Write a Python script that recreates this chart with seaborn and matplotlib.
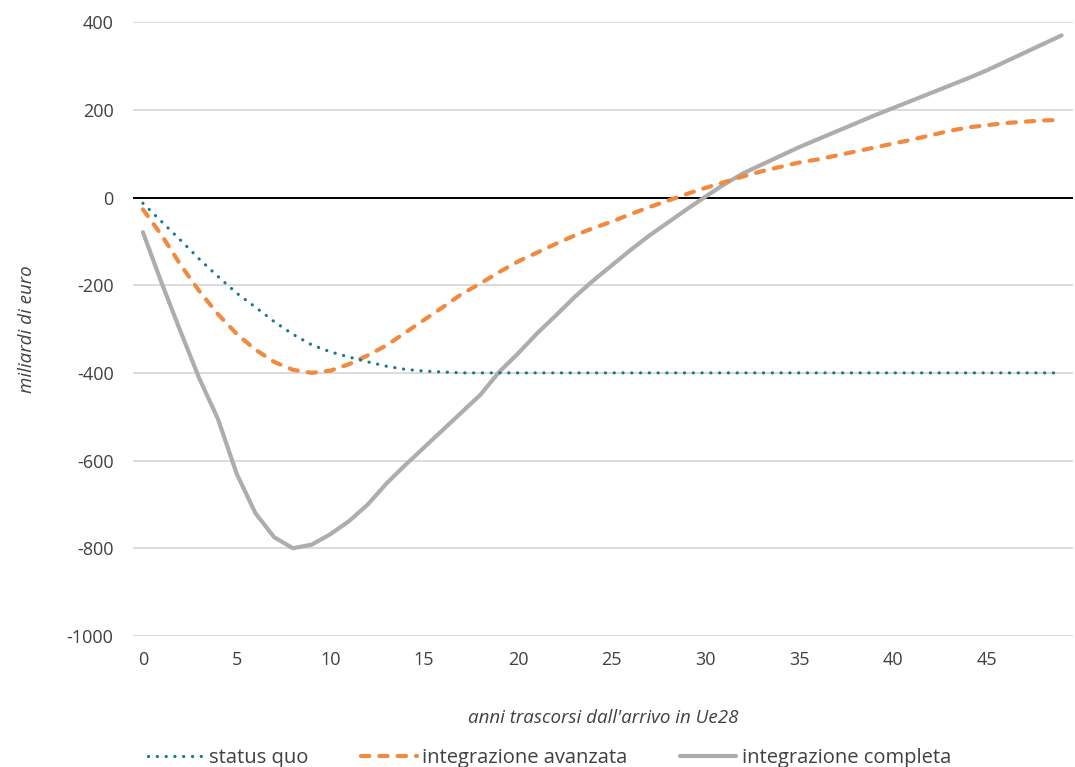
import numpy as np
import pandas as pd
import matplotlib
matplotlib.use("Agg")
import matplotlib.pyplot as plt
import seaborn as sns

years = list(range(0, 50))
status_quo = [-13, -55, -97, -140, -180, -218, -250, -283, -312, -336,
              -352, -364, -375, -385, -392, -396, -398, -400, -400, -400,
              -400, -400, -400, -400, -400, -400, -400, -400, -400, -400,
              -400, -400, -400, -400, -400, -400, -400, -400, -400, -400,
              -400, -400, -400, -400, -400, -400, -400, -400, -400, -400]
integrazione_avanzata = [-27, -86, -153, -213, -266, -311, -347, -375, -393, -400,
                         -395, -380, -360, -337, -308, -279, -250, -220, -196, -170,
                         -146, -126, -106, -87, -70, -55, -38, -22, -7, 8,
                         22, 35, 48, 60, 70, 80, 87, 96, 105, 114,
                         123, 132, 142, 152, 160, 165, 170, 173, 176, 177]
integrazione_completa = [-79, -195, -305, -412, -505, -630, -720, -775, -800, -792,
                         -768, -738, -700, -652, -610, -570, -530, -490, -450, -398,
                         -356, -311, -270, -228, -190, -155, -120, -87, -57, -27,
                         2, 30, 55, 75, 95, 115, 133, 151, 169, 187,
                         204, 221, 238, 255, 272, 290, 310, 330, 350, 370]
series_names = ["status quo", "integrazione avanzata", "integrazione completa"]
y_ticks = [400, 200, 0, -200, -400, -600, -800, -1000]
x_ticks = [0, 5, 10, 15, 20, 25, 30, 35, 40, 45]

sns.set_theme(style="white")
plt.rcParams["font.family"] = ["Open Sans", "DejaVu Sans"]
plt.rcParams["axes.unicode_minus"] = False
text_color = "#404040"

fig = plt.figure(figsize=(10.75, 7.67), dpi=100)
ax = fig.add_axes([0.1237, 0.171, 0.8743, 0.800])

df = pd.DataFrame({"anno": years,
                   series_names[0]: status_quo,
                   series_names[1]: integrazione_avanzata,
                   series_names[2]: integrazione_completa})

for v in y_ticks:
    if v != 0:
        ax.axhline(v, color="#D9D9D9", lw=1.3, zorder=0)
ax.axhline(0, color="black", lw=1.4, zorder=1)

sns.lineplot(data=df, x="anno", y=series_names[2], ax=ax, color="#ADADAD",
             lw=3.0, label=series_names[2], zorder=2, solid_joinstyle="round")
sns.lineplot(data=df, x="anno", y=series_names[1], ax=ax, color="#F08A3E",
             lw=3.0, label=series_names[1], zorder=3,
             linestyle=(0, (2.0, 2.4)), dash_capstyle="round")
sns.lineplot(data=df, x="anno", y=series_names[0], ax=ax, color="#177A8C",
             lw=2.3, label=series_names[0], zorder=4,
             linestyle=(0, (0.05, 2.7)), dash_capstyle="round")

ax.set_xlim(-0.53, 49.6)
ax.set_ylim(-1000, 400)
ax.set_yticks(y_ticks)
ax.set_xticks(x_ticks)
ax.tick_params(axis="both", length=0, labelsize=13, colors=text_color)
ax.tick_params(axis="y", pad=14)
ax.tick_params(axis="x", pad=11)
for s in ax.spines.values():
    s.set_visible(False)

ax.set_xlabel("anni trascorsi dall'arrivo in Ue28", fontsize=13.5, style="italic",
              color=text_color, labelpad=29)
ax.set_ylabel("miliardi di euro", fontsize=13.5, style="italic", color=text_color,
              labelpad=22)

handles, labels = ax.get_legend_handles_labels()
order = [labels.index(n) for n in series_names]
leg = ax.legend([handles[i] for i in order], [labels[i] for i in order],
                loc="upper center", bbox_to_anchor=(0.443, -0.163), ncol=3,
                frameon=False, fontsize=14.5, handlelength=2.8, handletextpad=0.25,
                columnspacing=2.6, labelcolor=text_color, borderpad=0.1)

fig.savefig("out.png", dpi=100)
